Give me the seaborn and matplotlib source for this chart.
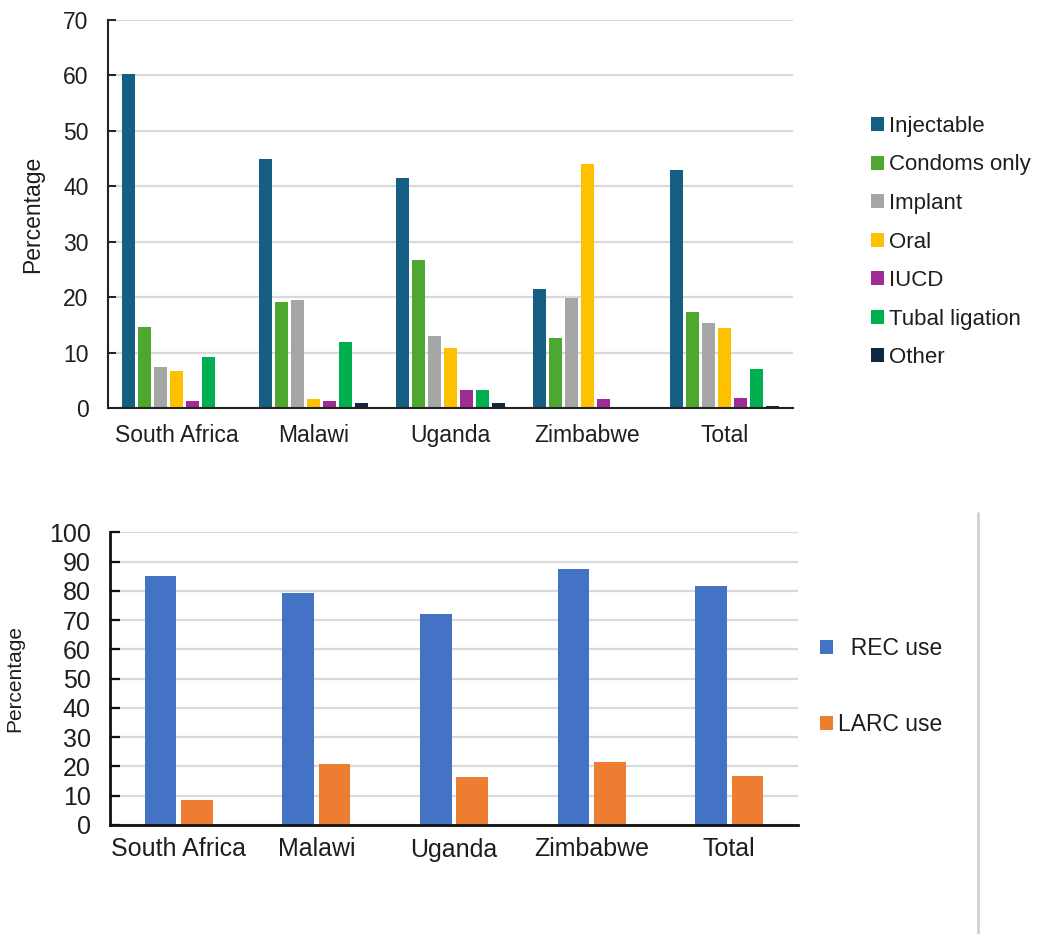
import matplotlib
matplotlib.use("Agg")
import matplotlib.pyplot as plt
from matplotlib.lines import Line2D
import pandas as pd
import seaborn as sns

# ---- data ----
countries = ["South Africa", "Malawi", "Uganda", "Zimbabwe", "Total"]
methods = ["Injectable", "Condoms only", "Implant", "Oral", "IUCD",
           "Tubal ligation", "Other"]
injectable = [60.2, 44.9, 41.5, 21.5, 43.0]
condoms_only = [14.7, 19.2, 26.8, 12.6, 17.4]
implant = [7.4, 19.5, 13.0, 19.8, 15.3]
oral = [6.7, 1.6, 10.8, 44.0, 14.5]
iucd = [1.3, 1.3, 3.3, 1.6, 1.8]
tubal_ligation = [9.2, 12.0, 3.3, 0.2, 7.0]
other = [0.0, 1.0, 1.0, 0.0, 0.5]
method_colors = ["#156082", "#4EA72E", "#A6A6A6", "#FFC000", "#A02B93",
                 "#00B050", "#0E2841"]

use_types = ["REC use", "LARC use"]
rec_use = [85.0, 79.4, 72.0, 87.4, 81.7]
larc_use = [8.7, 20.8, 16.3, 21.4, 16.9]
use_colors = ["#4472C4", "#ED7D31"]

top_ticks = [0, 10, 20, 30, 40, 50, 60, 70]
bottom_ticks = [0, 10, 20, 30, 40, 50, 60, 70, 80, 90, 100]

# ---- long-form tables ----
method_values = [injectable, condoms_only, implant, oral, iucd,
                 tubal_ligation, other]
df_methods = pd.DataFrame(
    [(c, m, v[i]) for m, v in zip(methods, method_values)
     for i, c in enumerate(countries)],
    columns=["country", "method", "pct"])
df_use = pd.DataFrame(
    [(c, u, v[i]) for u, v in zip(use_types, [rec_use, larc_use])
     for i, c in enumerate(countries)],
    columns=["country", "use", "pct"])

sns.set_theme(style="white")
plt.rcParams["font.family"] = ["Liberation Sans", "DejaVu Sans"]
text_color = "#1e1e1e"
grid_color = "#d9d9d9"

W, H = 1047, 934
fig = plt.figure(figsize=(W / 100, H / 100), dpi=100)

# ---- top chart: method mix ----
ax1 = fig.add_axes([108 / W, 1 - 408.3 / H, 685 / W, 388.3 / H])
sns.barplot(data=df_methods, x="country", y="pct", hue="method",
            order=countries, hue_order=methods, palette=method_colors,
            saturation=1, width=0.82, gap=0.22, linewidth=0, ax=ax1,
            legend=False)
ax1.set_ylim(0, 70)
ax1.set_xlim(-0.5, 4.5)
ax1.set_yticks(top_ticks)
ax1.yaxis.grid(True, color=grid_color, lw=1.6)
ax1.set_axisbelow(True)
for s in ["top", "right"]:
    ax1.spines[s].set_visible(False)
for s in ["left", "bottom"]:
    ax1.spines[s].set_color("#222222")
    ax1.spines[s].set_linewidth(1.5)
ax1.tick_params(axis="y", direction="in", length=6, width=1.4, color="#222222",
                left=True, pad=14, labelsize=16.5, labelcolor=text_color)
ax1.tick_params(axis="x", length=0, pad=11, labelsize=16.5, labelcolor=text_color)
ax1.set_xlabel("")
ax1.set_ylabel("Percentage", fontsize=16.5, color=text_color)
ax1.yaxis.set_label_coords(-(108 - 44) / 685, 0.5)

h1 = [plt.Rectangle((0, 0), 1, 1, facecolor=c, edgecolor="none")
      for c in method_colors]
fig.legend(h1, methods, loc="upper left", bbox_to_anchor=(862 / W, 1 - 107 / H),
           frameon=False, fontsize=16, handlelength=0.58, handleheight=0.58,
           handletextpad=0.25, labelspacing=0.79, borderaxespad=0,
           labelcolor=text_color)

# ---- bottom chart: REC vs LARC ----
ax2 = fig.add_axes([110 / W, 1 - 825 / H, 688 / W, 292.7 / H])
sns.barplot(data=df_use, x="country", y="pct", hue="use",
            order=countries, hue_order=use_types, palette=use_colors,
            saturation=1, width=0.53, gap=0.13, linewidth=0, ax=ax2,
            legend=False)
ax2.set_ylim(0, 100)
ax2.set_xlim(-0.5, 4.5)
ax2.set_yticks(bottom_ticks)
ax2.yaxis.grid(True, color=grid_color, lw=1.6)
ax2.set_axisbelow(True)
for s in ["top", "right"]:
    ax2.spines[s].set_visible(False)
for s in ["left", "bottom"]:
    ax2.spines[s].set_color("#111111")
    ax2.spines[s].set_linewidth(2)
ax2.tick_params(axis="y", direction="in", length=7, width=1.6, color="#111111",
                left=True, pad=14, labelsize=18, labelcolor=text_color)
ax2.tick_params(axis="x", length=0, pad=9, labelsize=18, labelcolor=text_color)
ax2.set_xlabel("")
ax2.set_ylabel("Percentage", fontsize=15, color=text_color)
ax2.yaxis.set_label_coords(-(110 - 24) / 688, 0.5)

h2 = [plt.Rectangle((0, 0), 1, 1, facecolor=c, edgecolor="none")
      for c in use_colors]
fig.legend(h2, ["  REC use", "LARC use"], loc="upper left",
           bbox_to_anchor=(811 / W, 1 - 628 / H), frameon=False, fontsize=16.5,
           handlelength=0.55, handleheight=0.55, handletextpad=0.25,
           labelspacing=2.3, borderaxespad=0, labelcolor=text_color)

# thin panel divider on the right of the lower chart
fig.add_artist(Line2D([977.5 / W, 977.5 / W], [0, 1 - 513 / H],
                      transform=fig.transFigure, color="#d0d0d0", lw=2))

fig.savefig("out.png", dpi=100)
